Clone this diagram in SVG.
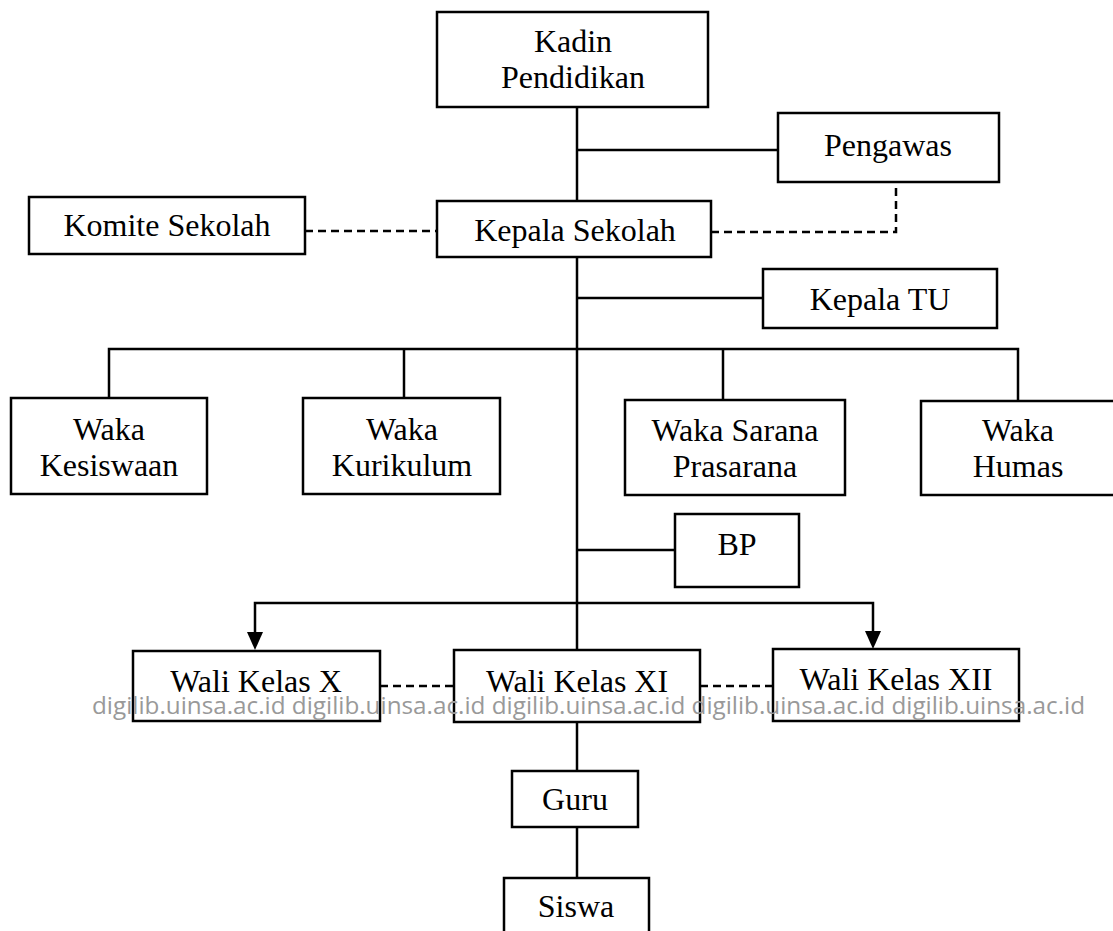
<svg xmlns="http://www.w3.org/2000/svg" width="1113" height="931" viewBox="0 0 1113 931">
<style>
.box{fill:#fff;stroke:#000;stroke-width:2.5}
.t{font-family:"Liberation Serif","Times New Roman",serif;font-size:32px;fill:#000;text-anchor:middle}
.ln{stroke:#000;stroke-width:2.5;fill:none}
.ds{stroke:#000;stroke-width:2.5;fill:none;stroke-dasharray:8 5}
.wm{font-family:"Open Sans","DejaVu Sans",sans-serif;font-size:24px;fill:#999}
</style>
<defs>
<marker id="ah" viewBox="0 0 16 18" refX="8" refY="18" markerWidth="16" markerHeight="18" markerUnits="userSpaceOnUse" orient="auto-start-reverse">
<path d="M0,0 L16,0 L8,18 Z" fill="#000"/>
</marker>
</defs>
<rect width="1113" height="931" fill="#fff"/>
<g id="connectors">
<path class="ln" d="M577,107 V201"/>
<path class="ln" d="M577,150 H778"/>
<path class="ln" d="M577,257 V650"/>
<path class="ln" d="M577,298 H763"/>
<path class="ln" d="M109,398 V349 H1018 V401"/>
<path class="ln" d="M404,349 V398"/>
<path class="ln" d="M723,349 V400"/>
<path class="ln" d="M577,550 H675"/>
<path class="ln" d="M255,632 V603 H873 V631"/>
<path d="M247,632 L263,632 L255,650 Z" fill="#000"/>
<path d="M865,631 L881,631 L873,649 Z" fill="#000"/>
<path class="ln" d="M577,722 V771"/>
<path class="ln" d="M577,827 V878"/>
<path class="ds" d="M305,231 H437"/>
<path class="ds" d="M711,232 H896 V182"/>
<path class="ds" d="M380,686 H454"/>
<path class="ds" d="M700,686 H773"/>
</g>
<g id="kadin"><rect class="box" x="437" y="12" width="271" height="95"/><text class="t" x="573" y="52">Kadin</text><text class="t" x="573" y="88">Pendidikan</text></g>
<g id="pengawas"><rect class="box" x="778" y="113" width="221" height="69"/><text class="t" x="888" y="156">Pengawas</text></g>
<g id="komite"><rect class="box" x="29" y="197" width="276" height="57"/><text class="t" x="167" y="236">Komite Sekolah</text></g>
<g id="kepala"><rect class="box" x="437" y="201" width="274" height="56"/><text class="t" x="575" y="241">Kepala Sekolah</text></g>
<g id="kepalatu"><rect class="box" x="763" y="269" width="234" height="59"/><text class="t" x="880" y="310">Kepala TU</text></g>
<g id="kesiswaan"><rect class="box" x="11" y="398" width="196" height="96"/><text class="t" x="109" y="440">Waka</text><text class="t" x="109" y="476">Kesiswaan</text></g>
<g id="kurikulum"><rect class="box" x="303" y="398" width="197" height="96"/><text class="t" x="402" y="440">Waka</text><text class="t" x="402" y="476">Kurikulum</text></g>
<g id="sarana"><rect class="box" x="625" y="400" width="220" height="95"/><text class="t" x="735" y="441">Waka Sarana</text><text class="t" x="735" y="477">Prasarana</text></g>
<g id="humas"><rect class="box" x="921" y="401" width="196" height="94"/><text class="t" x="1018" y="441">Waka</text><text class="t" x="1018" y="477">Humas</text></g>
<g id="bp"><rect class="box" x="675" y="514" width="124" height="73"/><text class="t" x="737" y="555">BP</text></g>
<g id="walix"><rect class="box" x="133" y="651" width="247" height="70"/><text class="t" x="256" y="692">Wali Kelas X</text></g>
<g id="walixi"><rect class="box" x="454" y="650" width="246" height="72"/><text class="t" x="577" y="692">Wali Kelas XI</text></g>
<g id="walixii"><rect class="box" x="773" y="649" width="246" height="72"/><text class="t" x="896" y="690">Wali Kelas XII</text></g>
<g id="guru"><rect class="box" x="512" y="771" width="126" height="56"/><text class="t" x="575" y="810">Guru</text></g>
<g id="siswa"><rect class="box" x="504" y="878" width="145" height="60"/><text class="t" x="576" y="917">Siswa</text></g>
<text class="wm" x="92" y="714" textLength="993" lengthAdjust="spacingAndGlyphs">digilib.uinsa.ac.id digilib.uinsa.ac.id digilib.uinsa.ac.id digilib.uinsa.ac.id digilib.uinsa.ac.id</text>
</svg>
